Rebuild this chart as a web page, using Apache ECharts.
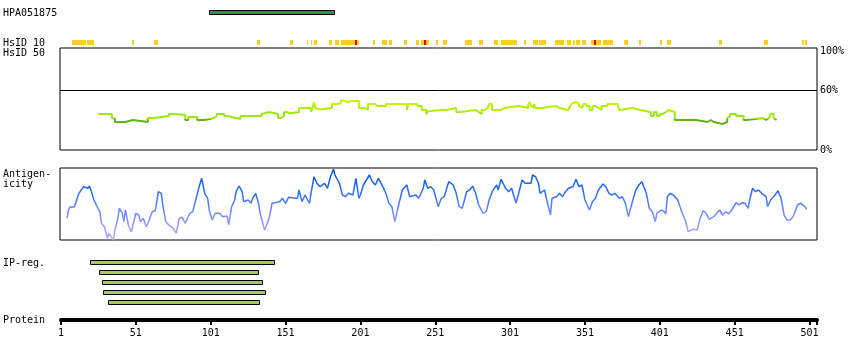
<!DOCTYPE html>
<html><head><meta charset="utf-8">
<script src="https://cdn.jsdelivr.net/npm/echarts@6/dist/echarts.min.js"></script>
<style>html,body{margin:0;padding:0;background:#fff}#c{width:850px;height:360px}</style>
</head><body><div id="c"></div>
<script>
// ---------------- data ----------------
const epitopeRange = [[100, 184]];
const hsid10Yellow = [[8.3,17.7],[18.3,23],[48.3,49.7],[63,65.7],[131.7,133.7],[153.7,155.7],[165,166.3],[167.7,169],[170.3,172.3],[180.3,182.3],[183.7,187],[188.3,200.3],[209.7,211],[215.7,219],[220.3,222.3],[230.3,232.3],[238.3,240.3],[241.7,247],[251.7,253],[256.3,259],[271,275.7],[280.3,283],[290.3,293],[295,305.7],[310.3,311.7],[316.3,319.7],[320.3,325],[331,337],[339,341.7],[343,344.3],[345,347.7],[349,351.7],[355,361.7],[363,369.7],[377,379.7],[387,388.3],[401,402.3],[405.7,408.3],[440.3,442.3],[470.3,473],[495.7,497],[497.7,499]];
const hsid10Red = [[197.7,199],[243.7,245],[357,358.3]];
const hsid50Pos = [26,35,37,44,49,59,63,73,75,76,84,86,92,97,103,105,110,112,115,117,121,135,136,140,146,148,150,152,154,160,168,169,170,171,172,174,182,186,188,189,193,195,196,200,204,206,211,212,216,217,218,232,233,239,242,245,246,247,254,255,258,265,267,278,280,282,284,286,287,289,295,297,307,313,314,315,316,317,318,322,332,334,340,341,342,343,345,347,348,349,350,352,354,356,358,360,362,366,373,374,375,383,384,388,395,397,399,401,403,405,407,411,425,433,435,436,437,443,446,447,448,452,457,459,470,472,474,475,477,478,479];
const hsid50Val = [36.4,32,28.3,30.3,28.3,32.3,34.3,36.4,38.4,35.5,30.3,33.3,30.3,32.3,34.3,36.4,34.3,33.3,32.3,31.7,34.3,36.4,38.4,36.4,32.3,34.3,38.4,37,38.4,42.4,38.4,42.4,48.5,42.4,41,42.4,46.5,47.5,50.5,48.5,49.5,51.2,49.5,42.4,40.4,46.5,45.5,44.4,42.4,44.4,46.5,40.4,46.5,44.4,40.4,36.4,39,40.4,42.4,40.4,42.4,38.4,40.4,38.4,36.4,40.4,42.4,44.4,46.5,40.4,42.4,44.4,42.4,45.5,48.5,44.4,42.4,46.5,42.4,44.4,42.4,40.4,42.4,44.4,46.5,48.5,46.5,44.4,42.4,44.4,46.5,44.4,40.4,44.4,42.4,40.4,44.4,46.5,44.4,40.4,42.4,41.5,40.4,38.4,34.3,38.4,34.3,36.4,38.4,40.4,38.4,30.3,28.3,30.3,32.3,28.3,26.3,28.3,32.3,34.3,36.4,34.3,30.3,32.3,30.3,32.3,34.3,36.4,32.3,30.3,30.3];
const agPos = [5,6,7,10,11,13,16,17,19,20,21,23,26,27,28,30,32,33,36,37,39,40,42,43,44,46,48,49,51,53,54,56,58,60,61,62,64,66,68,69,71,73,76,78,80,82,84,87,89,91,93,95,97,99,100,102,104,107,109,112,113,115,117,118,120,122,123,126,128,129,131,133,134,137,138,140,142,144,147,149,151,153,157,159,160,162,164,167,168,170,172,174,177,179,181,183,184,187,189,191,193,196,198,200,201,203,207,209,211,213,216,218,220,222,224,226,229,232,234,238,240,243,244,246,248,250,253,255,257,260,263,265,267,269,272,274,276,278,280,283,285,287,289,292,293,295,298,300,302,305,307,309,311,315,316,318,320,321,324,326,328,329,332,334,336,338,340,343,345,347,349,351,354,356,358,360,363,365,367,369,371,374,376,378,380,383,385,387,389,392,394,396,398,399,402,404,405,406,408,410,413,416,418,420,423,426,428,430,432,434,437,439,441,443,445,447,449,452,454,456,458,460,461,463,465,467,469,472,473,475,477,480,482,484,486,488,490,493,495,496,498,499];
const agVal = [21.7,30,33,33,38,46.7,53.3,51.7,51.7,54,50,40,30.7,28.3,16.7,13.3,1.7,6.7,0,10,21.7,31.7,26.7,18.3,30,15,8.3,7.3,26.7,25,18.3,21.7,13.3,20,25,28.3,29.3,48.3,46.7,35,18.3,15,11.7,6.7,21.7,22.7,16.7,26.7,28.3,40,51.7,61.7,46.7,41.7,30,20,26.7,26.7,23.3,24,15,33.3,40,48.3,54,48.3,38.3,40,36.7,41.7,46.7,36.7,26.7,10,13.3,21.7,36.7,37.3,38.3,41.7,36.7,42.7,41.7,41.7,50,38.3,45,36.7,46.7,63.3,56.7,53.3,56.7,51.7,63.3,70.7,65,56.7,45,43.3,46.7,45,61.7,41.7,45,55,65,58.3,55,61.7,53.3,46.7,36.7,33.3,18.3,31.7,50,55,43.3,45,41.7,51.7,60,51.7,53.3,50,33.3,41.7,43.3,58.3,55,46.7,33.3,31.7,48.3,50,54,46.7,35,26.7,28.3,40,48.3,55,50,60.7,51.7,48.3,51.7,36.7,48.3,60,56.7,56.7,65,63.3,56.7,46.7,50,36.7,25,41.7,43.3,46.7,43.3,48.3,51.7,53.3,60.7,53.3,55,40,30,38.3,41.7,50,56,53.3,46.7,45,46.7,41.7,43.3,36.7,23.3,40,50,55,58.3,46.7,31.7,28.3,18.3,26.7,30,28.3,26,43.3,46.7,45,40,26.7,20,8.3,10.7,10,21.7,29.3,26.7,20.7,23.3,26.7,30,25,28.3,26,30,37.3,35,37.3,36.7,31.7,40,51.7,48.3,50,46.7,43.3,33.3,40,43.3,49.3,41.7,25,20,20,23.3,35,36.7,37.3,33.3,30.7];
const ipRegions = [[20.5,144],[26.5,133.5],[28.5,136],[29,138],[32.5,134]];
const tickValues = [1,51,101,151,201,251,301,351,401,451,501];
const pctTicks = [0,60,100];

// ---------------- layout ----------------
const FONT = '"DejaVu Sans Mono", monospace';
const PX = 1.497, X0 = 61;
function xr(left, width){ return {min: 1 + (left - X0)/PX, max: 1 + (left + width - X0)/PX}; }
const grids = [
  {left:61, width:756, top:10, height:5},
  {left:61, width:756, top:40, height:5},
  {left:60, width:757, top:48, height:102, show:true, borderColor:'#000', borderWidth:1},
  {left:60, width:757, top:168, height:72, show:true, borderColor:'#000', borderWidth:1},
  {left:61, width:756, top:257.5, height:50},
  {left:61, width:756, top:300, height:20}
];
const xAxes = grids.map((g,i)=>Object.assign({type:'value', gridIndex:i, show:false, splitLine:{show:false}}, xr(g.left, g.width)));
const endTick = Math.round(xAxes[5].max);
Object.assign(xAxes[5], {
  show:true, position:'bottom',
  axisLine:{show:true, onZero:false, lineStyle:{color:'#000', width:4}},
  axisTick:{show:true, customValues: tickValues.concat([endTick]), length:5, lineStyle:{color:'#000', width:2}},
  axisLabel:{show:true, customValues: tickValues, color:'#000', fontFamily:FONT, fontSize:10, margin:8},
  splitLine:{show:false}
});
const yAxes = [
  {type:'value', gridIndex:0, min:0, max:1, show:false},
  {type:'value', gridIndex:1, min:0, max:1, show:false},
  {type:'value', gridIndex:2, min:0, max:103, position:'right', splitLine:{show:false}, axisLine:{show:false}, axisTick:{show:false},
    axisLabel:{customValues:pctTicks, formatter:'{value}%', color:'#000', fontFamily:FONT, fontSize:10, margin:3}},
  {type:'value', gridIndex:3, min:0, max:72, show:false},
  {type:'category', gridIndex:4, data:ipRegions.map((_,i)=>String(i)), inverse:true, show:false},
  {type:'value', gridIndex:5, min:0, max:1, show:false}
];

function rangeRenderer(fill, stroke){
  return function(params, api){
    const cs = params.coordSys;
    const a = api.coord([api.value(0), 0]), b = api.coord([api.value(1), 0]);
    if (stroke) {
      const x = Math.round(a[0]) + 0.5, x2 = Math.round(b[0]) - 0.5;
      return {type:'rect', shape:{x:x, y:cs.y+0.5, width:x2-x, height:cs.height-1}, style:{fill:fill, stroke:stroke, lineWidth:1}};
    }
    const x = Math.round(a[0]), x2 = Math.round(b[0]);
    return {type:'rect', shape:{x:x, y:cs.y, width:Math.max(1,x2-x), height:cs.height}, style:{fill:fill}};
  };
}
function ipRenderer(params, api){
  const a = api.coord([api.value(0), api.value(2)]), b = api.coord([api.value(1), api.value(2)]);
  const x = Math.round(a[0]) + 0.5, x2 = Math.round(b[0]) - 0.5;
  const y = Math.round(a[1] - 2.5) + 0.5;
  return {type:'rect', shape:{x:x, y:y, width:x2-x, height:4}, style:{fill:'#a6c964', stroke:'#000', lineWidth:1}};
}

function label(text, x, y, align){
  return {type:'text', x:x, y:y, style:{text:text, font:'10px ' + FONT, fill:'#000', align:align||'left', verticalAlign:'middle'}, silent:true};
}

const option = {
  animation:false,
  backgroundColor:'#fff',
  grid: grids,
  xAxis: xAxes,
  yAxis: yAxes,
  visualMap: [
    {type:'piecewise', show:false, seriesIndex:3, dimension:1,
      pieces:[{lt:31, color:'#62b414'},{gte:31, lt:38, color:'#9ae80c'},{gte:38, lt:45, color:'#b2ef00'},{gte:45, color:'#c9f400'}]},
    {type:'continuous', show:false, seriesIndex:4, dimension:1, min:0, max:72,
      inRange:{color:['#b8aef5','#9a98ff','#6c88ff','#3a72f2','#1664e8','#0050c4']}}
  ],
  graphic: [
    label('HPA051875', 3, 13),
    label('HsID 10', 3, 43),
    label('HsID 50', 3, 53),
    label('Antigen-', 3, 174),
    label('icity', 3, 184),
    label('IP-reg.', 3, 263.5),
    label('Protein', 3, 320)
  ],
  series: [
    {type:'custom', xAxisIndex:0, yAxisIndex:0, data:epitopeRange, renderItem:rangeRenderer('#22a022','#000'), silent:true},
    {type:'custom', xAxisIndex:1, yAxisIndex:1, data:hsid10Yellow, renderItem:rangeRenderer('#ffcc22'), silent:true},
    {type:'custom', xAxisIndex:1, yAxisIndex:1, data:hsid10Red, renderItem:rangeRenderer('#dd0000'), silent:true, z:3},
    {type:'line', xAxisIndex:2, yAxisIndex:2, step:'end', symbol:'none', silent:true,
      data: hsid50Pos.map((p,i)=>[p, hsid50Val[i]]), lineStyle:{width:2},
      markLine:{silent:true, symbol:'none', label:{show:false}, lineStyle:{color:'#000', width:1, type:'solid'}, data:[{yAxis:60}]}},
    {type:'line', xAxisIndex:3, yAxisIndex:3, symbol:'none', silent:true,
      data: agPos.map((p,i)=>[p, agVal[i]]), lineStyle:{width:1.5}},
    {type:'custom', xAxisIndex:4, yAxisIndex:4, data: ipRegions.map((r,i)=>[r[0], r[1], i]), renderItem:ipRenderer, silent:true}
  ]
};
const chart = echarts.init(document.getElementById('c'), null, {renderer:'canvas'});
chart.setOption(option);
</script>
</body></html>
